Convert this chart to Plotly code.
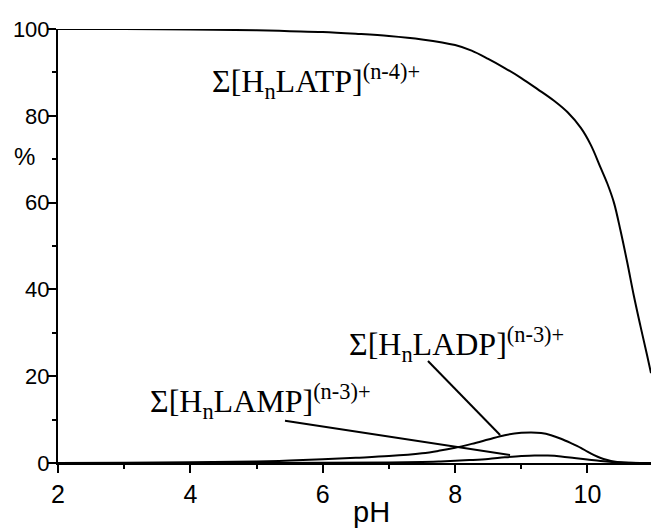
import plotly.graph_objects as go

# ---- data ----
ph_atp = [2, 3, 4, 5, 5.5, 6, 6.5, 7, 7.5, 8, 8.25, 8.5, 8.75, 9, 9.25, 9.5, 9.7, 9.9, 10.05, 10.2, 10.3, 10.4, 10.5, 10.6, 10.7, 10.8, 10.9, 10.96]
atp = [100, 100, 99.9, 99.7, 99.5, 99.3, 98.9, 98.4, 97.6, 96.3, 95.0, 93.1, 91.0, 88.7, 86.1, 83.4, 80.8, 77.2, 73.3, 68.0, 64.4, 60.0, 53.5, 46.3, 38.6, 31.6, 24.9, 20.7]

ph_adp = [2, 3, 4, 5, 5.5, 6, 6.5, 7, 7.5, 7.75, 8, 8.25, 8.5, 8.75, 9, 9.15, 9.3, 9.45, 9.6, 9.75, 9.9, 10.0, 10.1, 10.2, 10.3, 10.4, 10.5, 10.65, 10.8, 10.96]
adp = [0, 0.05, 0.15, 0.35, 0.55, 0.85, 1.2, 1.6, 2.25, 2.8, 3.5, 4.4, 5.4, 6.4, 6.95, 7.05, 6.9, 6.4, 5.6, 4.6, 3.5, 2.6, 1.8, 1.15, 0.7, 0.35, 0.15, 0.05, 0.01, 0]

ph_amp = [2, 4, 6, 7, 7.5, 7.75, 8, 8.25, 8.5, 8.75, 9, 9.2, 9.4, 9.6, 9.8, 10, 10.2, 10.4, 10.6, 10.8, 10.96]
amp = [0, 0, 0.05, 0.12, 0.25, 0.35, 0.5, 0.7, 0.95, 1.3, 1.6, 1.75, 1.7, 1.5, 1.15, 0.8, 0.45, 0.2, 0.06, 0.01, 0]

x_ticks = [2, 4, 6, 8, 10]
y_ticks = [0, 20, 40, 60, 80, 100]

labels = {
    "ATP": "Σ[H<sub>n</sub>LATP]<sup>(n-4)+</sup>",
    "ADP": "Σ[H<sub>n</sub>LADP]<sup>(n-3)+</sup>",
    "AMP": "Σ[H<sub>n</sub>LAMP]<sup>(n-3)+</sup>",
}
label_pos = {"ATP": (4.30, 88.0), "ADP": (6.37, 27.2), "AMP": (3.36, 14.2)}
leader_lines = {"ADP": ((7.59, 23.5), (8.68, 6.45)), "AMP": ((5.43, 9.75), (8.83, 1.84))}

fig = go.Figure()
for xs, ys in [(ph_atp, atp), (ph_adp, adp), (ph_amp, amp)]:
    fig.add_trace(go.Scatter(x=xs, y=ys, mode="lines", line=dict(color="black", width=2, shape="spline", smoothing=1.0),
                             showlegend=False, hoverinfo="skip", cliponaxis=True))

for k, (p0, p1) in leader_lines.items():
    fig.add_shape(type="line", x0=p0[0], y0=p0[1], x1=p1[0], y1=p1[1], xref="x", yref="y",
                  line=dict(color="black", width=2))

for k, txt in labels.items():
    x, y = label_pos[k]
    fig.add_annotation(x=x, y=y, xref="x", yref="y", text=txt, showarrow=False, xanchor="left", yanchor="middle",
                       font=dict(family="Liberation Serif", size=32, color="black"))

fig.add_annotation(x=(24 - 58) / 593, y=(463 - 156) / 434, xref="paper", yref="paper", text="%", showarrow=False,
                   xanchor="center", yanchor="middle",
                   font=dict(family="Liberation Sans", size=24, color="black"))
fig.add_annotation(x=(371 - 58) / 593, y=(463 - 512) / 434, xref="paper", yref="paper", text="pH", showarrow=False,
                   xanchor="center", yanchor="middle",
                   font=dict(family="Liberation Sans", size=29, color="black"))

fig.update_layout(
    width=651, height=528,
    margin=dict(l=58, r=0, t=29, b=65),
    paper_bgcolor="white", plot_bgcolor="white",
    xaxis=dict(range=[2, 10.96], tickvals=x_ticks, ticks="outside", ticklen=8, tickwidth=2, tickcolor="black",
               showline=True, linecolor="black", linewidth=2, showgrid=False, zeroline=False,
               tickfont=dict(family="Liberation Sans", size=25, color="black"),
               minor=dict(dtick=1, tick0=2, ticks="outside", ticklen=4, tickwidth=2, tickcolor="black", showgrid=False)),
    yaxis=dict(range=[0, 100], tickvals=y_ticks, ticks="outside", ticklen=8, tickwidth=2, tickcolor="black",
               showline=True, linecolor="black", linewidth=2, showgrid=False, zeroline=False, ticklabelstandoff=-6,
               tickfont=dict(family="Liberation Sans", size=22, color="black"),
               minor=dict(dtick=10, tick0=0, ticks="outside", ticklen=4, tickwidth=2, tickcolor="black", showgrid=False)),
)

fig.write_html("out.html")
